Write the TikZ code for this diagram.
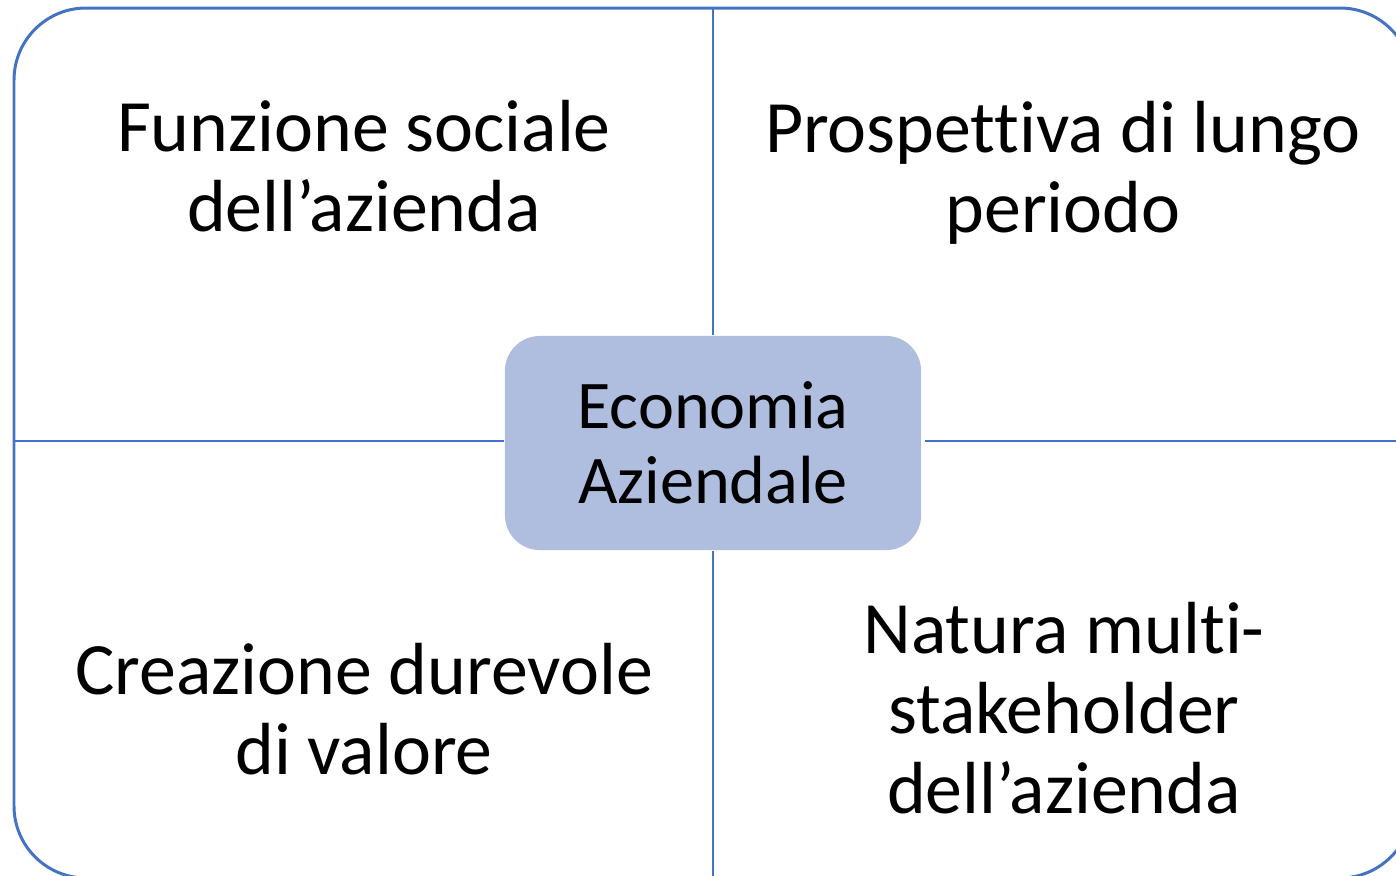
\documentclass[tikz,border=0pt]{standalone}
\usepackage{fontspec}
\setmainfont[Ligatures={TeX,NoCommon}]{Carlito}
\usetikzlibrary{calc}
\definecolor{smartblue}{HTML}{4472C4}
\definecolor{boxfill}{RGB}{175,189,223}
\tikzset{
  quadtext/.style={align=center,inner sep=0pt,font=\fontsize{21}{22.8}\selectfont},
  ecobox/.style={fill=boxfill,draw=none,rounded corners=0.35cm,minimum width=4.16cm,minimum height=2.14cm,
    align=center,inner sep=0pt,font=\fontsize{19.4}{21.3}\selectfont},
  divider/.style={draw=smartblue,line width=0.6pt}
}
\begin{document}
\begin{tikzpicture}[x=0.01cm,y=-0.01cm]
      \useasboundingbox(0,0)rectangle(1396,875);
      \begin{scope}
        \clip(0,0)rectangle(1396,875);
        \draw[smartblue,line width=0.85pt,rounded corners=0.72cm](14,8)rectangle(1412,878);
        \coordinate(T)at(713,8);
        \coordinate(B)at(713,878);
        \coordinate(L)at(14,441);
        \coordinate(R)at(1412,441);
        \node[ecobox](eco)at(713,443){Economia\\Aziendale};
        \draw[divider,shorten >=1pt] (T)--(eco.north) (B)--(eco.south)
          (L)--(L-|eco.west) (R)--(R-|eco.east);
        % the four quadrants
        \node[quadtext](fs)at(364,166){Funzione sociale\\dell’azienda};
        \node[quadtext](pl)at(1063,173){Prospettiva di lungo\\periodo};
        \node[quadtext](cv)at(364,709){Creazione durevole\\di valore};
        \node[quadtext](ns)at(1064,708){Natura multi-\\stakeholder\\dell’azienda};
      \end{scope}
    \end{tikzpicture}
\end{document}
